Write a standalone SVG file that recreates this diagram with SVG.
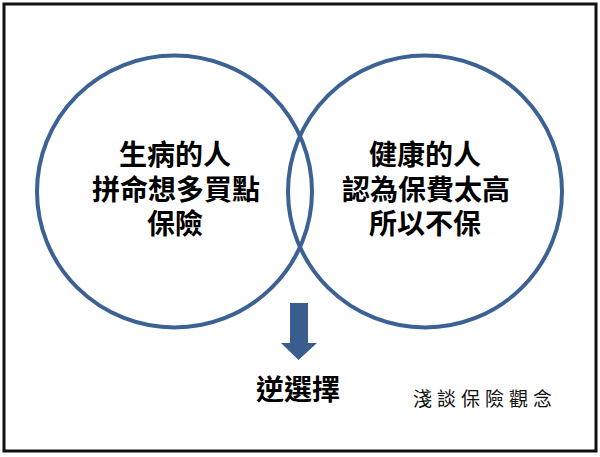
<svg xmlns="http://www.w3.org/2000/svg" width="600" height="457" viewBox="0 0 600 457">
<style>
.ring{fill:none;stroke:#3C6194;stroke-width:4}
.t{font-family:"Noto Sans CJK TC","Noto Sans CJK SC",sans-serif;font-weight:bold;font-size:28px;fill:#000;text-anchor:middle}
.sig{font-family:"Noto Sans CJK TC","Noto Sans CJK SC",sans-serif;font-size:19px;fill:#111;letter-spacing:5px}
</style>
<rect x="0" y="0" width="600" height="457" fill="#fff"/>
<rect x="4" y="4" width="592" height="447" fill="none" stroke="#111" stroke-width="3"/>
<g id="node-sick">
<ellipse class="ring" cx="174.5" cy="191.5" rx="137.5" ry="136"/>
<text class="t" x="175" y="165">生病的人</text>
<text class="t" x="176" y="199.5">拼命想多買點</text>
<text class="t" x="175" y="234">保險</text>
</g>
<g id="node-healthy">
<ellipse class="ring" cx="425" cy="191.5" rx="137" ry="136"/>
<text class="t" x="425" y="165">健康的人</text>
<text class="t" x="426" y="199.5">認為保費太高</text>
<text class="t" x="425" y="234">所以不保</text>
</g>
<g id="connectors">
<polygon points="290,303 308,303 308,343 317,343 298.5,360 281,343 290,343" fill="#3A5D8E"/>
</g>
<g id="node-result">
<text class="t" x="298" y="400">逆選擇</text>
</g>
<g id="node-caption">
<text class="sig" x="413" y="406">淺談保險觀念</text>
</g>
</svg>
